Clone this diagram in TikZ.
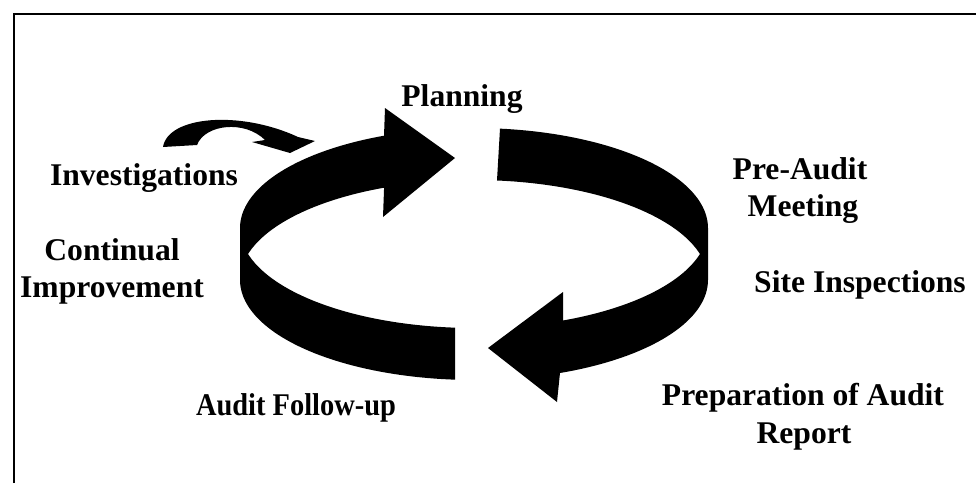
\documentclass[tikz,border=0pt]{standalone}
\usepackage{graphicx}
\usepackage{fontspec}
\setmainfont{Liberation Serif}
\begin{document}
\begin{tikzpicture}[x=0.5pt,y=-0.5pt,
  lbl/.style={anchor=base, inner sep=0pt, font=\bfseries\fontsize{15.8}{19}\selectfont},
  band/.style={fill=black}]
\useasboundingbox (0,0) rectangle (976,483);
% frame (left and top edges visible)
\draw[line width=1.2pt] (14,483) -- (14,14) -- (976,14);

% left arrow of the ring (towards Planning)
\fill[band] (384,136)
  -- plot[domain=112.6:180,samples=50,variable=\t] ({474+234*cos(\t)},{228-100*sin(\t)})
  -- plot[domain=180:265.4,samples=50,variable=\t] ({474+234*cos(\t)},{280-100*sin(\t)})
  -- plot[domain=265.4:195,samples=50,variable=\t] ({474+234*cos(\t)},{228-100*sin(\t)})
  -- plot[domain=165:112.6,samples=50,variable=\t] ({474+234*cos(\t)},{280-100*sin(\t)})
  -- (383,217) -- (455,158) -- (385,108) -- cycle;

% right arrow of the ring (towards Audit Follow-up)
\fill[band] (500,128.6)
  -- plot[domain=83.6:0,samples=50,variable=\t] ({474+234*cos(\t)},{228-100*sin(\t)})
  -- plot[domain=360:291.56,samples=50,variable=\t] ({474+234*cos(\t)},{280-100*sin(\t)})
  -- (557,402) -- (488,348) -- (563,292)
  -- plot[domain=292.36:345,samples=50,variable=\t] ({474+234*cos(\t)},{228-100*sin(\t)})
  -- plot[domain=15:84.36,samples=50,variable=\t] ({474+234*cos(\t)},{280-100*sin(\t)})
  -- cycle;

% small curved arrow above Investigations
\fill[band] (163,147) .. controls (168,116) and (240,110) .. (298,137)
  -- (315,141) -- (290,153) -- (252,142) -- (265,140)
  .. controls (245,120) and (205,124) .. (197,145) -- cycle;

% labels
\node[lbl] (plan)  at (462,106) {Planning};
\node[lbl] (inv)   at (144,185) {Investigations};
\node[lbl] (cont1) at (112,260) {Continual};
\node[lbl] (cont2) at (112,297) {Improvement};
\node[lbl] (pre1)  at (800,179) {Pre-Audit};
\node[lbl] (pre2)  at (803,216) {Meeting};
\node[lbl] (site)  at (860,292) {Site Inspections};
\node[lbl] (prep1) at (803,405) {Preparation of Audit};
\node[lbl] (prep2) at (804,443) {Report};
\node[lbl] (fol)   at (296,415) {\scalebox{0.9}[1]{Audit Follow-up}};
\end{tikzpicture}
\end{document}
